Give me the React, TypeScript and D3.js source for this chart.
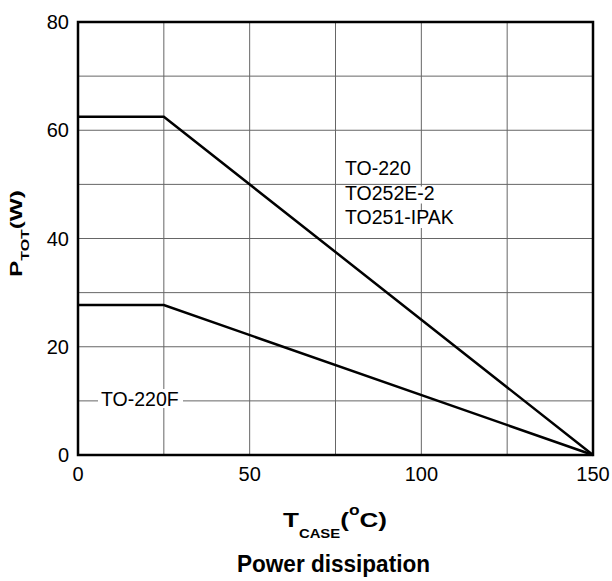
import React from "react";
import * as d3 from "d3";

const xTicks = [0, 50, 100, 150];
const yTicks = [0, 20, 40, 60, 80];
const xGrid = [25, 50, 75, 100, 125];
const yGrid = [10, 20, 30, 40, 50, 60, 70];
const tempC = [0, 25, 150];
const pTO220 = [62.5, 62.5, 0];
const pTO220F = [27.7, 27.7, 0];
const labelsTO220 = ["TO-220", "TO252E-2", "TO251-IPAK"];

const W = 612, H = 581;
const L = 78, R = 593, T = 22, B = 455;

export default function App() {
  const x = d3.scaleLinear().domain([0, 150]).range([L, R]);
  const y = d3.scaleLinear().domain([0, 80]).range([B, T]);
  const line = d3.line<number>().x((_, i) => x(tempC[i])).y((d) => y(d));
  const font = "Arial, 'Liberation Sans', Helvetica, sans-serif";
  return (
    <svg width={W} height={H} style={{ position: "absolute", left: 0, top: 0 }} fontFamily={font}>
      <rect width={W} height={H} fill="#fff" />
      {xGrid.map((v) => (
        <line key={"gx" + v} x1={x(v)} x2={x(v)} y1={T} y2={B} stroke="#666" strokeWidth={1} />
      ))}
      {yGrid.map((v) => (
        <line key={"gy" + v} x1={L} x2={R} y1={y(v)} y2={y(v)} stroke="#666" strokeWidth={1} />
      ))}
      <path d={line(pTO220) || ""} fill="none" stroke="#000" strokeWidth={2.5} />
      <path d={line(pTO220F) || ""} fill="none" stroke="#000" strokeWidth={2.5} />
      <rect x={L} y={T} width={R - L} height={B - T} fill="none" stroke="#000" strokeWidth={2.5} />
      {yTicks.map((v) => (
        <text key={"yt" + v} x={69} y={y(v) + 7} textAnchor="end" fontSize={20}>{v}</text>
      ))}
      {xTicks.map((v) => (
        <text key={"xt" + v} x={x(v)} y={481} textAnchor="middle" fontSize={20}>{v}</text>
      ))}
      {/* TO-220F label */}
      <rect x={98} y={389} width={85} height={19} fill="#fff" />
      <text x={101} y={406} fontSize={19.5}>TO-220F</text>
      {labelsTO220.map((t, i) => (
        <g key={t}>
          {i > 0 && <rect x={344} y={175 + i * 24.5 - 13} width={t.length * 11.5} height={17} fill="#fff" />}
          <text x={345} y={175 + i * 24.5} fontSize={19.5}>{t}</text>
        </g>
      ))}
      <text x={283} y={527} fontSize={21} fontWeight="bold" textLength={104} lengthAdjust="spacingAndGlyphs">
        T<tspan fontSize={12} dy={11}>CASE</tspan>
        <tspan fontSize={21} dy={-11}>(</tspan>
        <tspan fontSize={14} dy={-12}>o</tspan>
        <tspan fontSize={21} dy={12}>C)</tspan>
      </text>
      <text x={237} y={572} fontSize={23} fontWeight="bold" textLength={193} lengthAdjust="spacingAndGlyphs">Power dissipation</text>
      <text transform="translate(22,277) rotate(-90)" fontSize={17} fontWeight="bold" textLength={87} lengthAdjust="spacingAndGlyphs">
        P<tspan fontSize={11} dy={7}>TOT</tspan>
        <tspan fontSize={17} dy={-7}>(W)</tspan>
      </text>
    </svg>
  );
}
